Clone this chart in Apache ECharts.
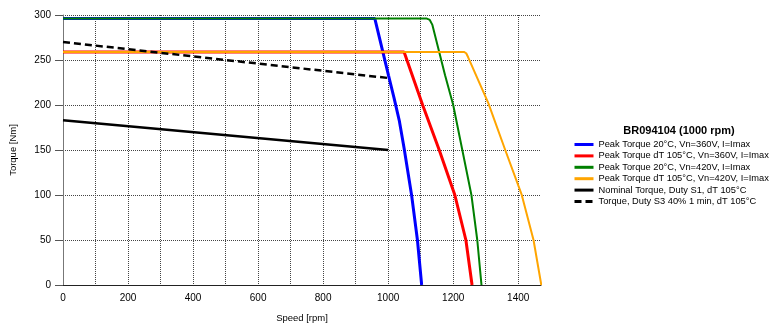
<!DOCTYPE html>
<html>
<head>
<meta charset="utf-8">
<script src="https://cdn.jsdelivr.net/npm/echarts@6/dist/echarts.min.js"></script>
<style>html,body{margin:0;padding:0;background:#fff;}#c{width:779px;height:333px;}</style>
</head>
<body>
<div id="c"></div>
<script>
// ---- data ----
const chartTitle = 'BR094104 (1000 rpm)';
const seriesNames = [
  'Peak Torque 20°C, Vn=360V, I=Imax',
  'Peak Torque dT 105°C, Vn=360V, I=Imax',
  'Peak Torque 20°C, Vn=420V, I=Imax',
  'Peak Torque dT 105°C, Vn=420V, I=Imax',
  'Nominal Torque, Duty S1, dT 105°C',
  'Torque, Duty S3 40% 1 min, dT 105°C'
];
const blueSpeed   = [0, 959, 1001, 1018, 1034, 1049, 1072, 1090, 1103];
const blueTorque  = [296, 296, 233, 208, 183, 152, 100, 50, 0];
const redSpeed    = [0, 1049, 1106, 1157, 1205, 1239, 1258];
const redTorque   = [259, 259, 200, 150, 100, 50, 0];
const greenSpeed  = [0, 1119, 1128, 1136, 1175, 1200, 1228, 1256, 1274, 1287];
const greenTorque = [296, 296, 294.5, 289, 233, 200, 150, 100, 50, 0];
const orangeSpeed = [0, 1233, 1240, 1246, 1308, 1360, 1410, 1447, 1471];
const orangeTorque= [259, 259, 257.5, 253, 202, 150, 101, 50, 0];
const s1Speed     = [0, 1000];
const s1Torque    = [183, 150];
const s3Speed     = [0, 1000];
const s3Torque    = [270, 230];
const xTickLabels = [0, 200, 400, 600, 800, 1000, 1200, 1400];
const yTickLabels = [0, 50, 100, 150, 200, 250, 300];

const pairs = (xs, ys) => xs.map((x, i) => [x, ys[i]]);
const colors = ['#0000ff', '#ff0000', '#008000', '#ffa500', '#000000', '#000000'];
const widths = [3, 3, 2, 2, 2.5, 2.5];
const dataSets = [
  pairs(blueSpeed, blueTorque),
  pairs(redSpeed, redTorque),
  pairs(greenSpeed, greenTorque),
  pairs(orangeSpeed, orangeTorque),
  pairs(s1Speed, s1Torque),
  pairs(s3Speed, s3Torque)
];

const font = 'Liberation Sans, Arial, sans-serif';
const chart = echarts.init(document.getElementById('c'), null, {renderer: 'canvas'});
chart.setOption({
  animation: false,
  backgroundColor: '#ffffff',
  title: {
    text: chartTitle,
    left: 674, top: 120, textAlign: 'center',
    textStyle: {fontFamily: font, fontSize: 11, fontWeight: 'bold', color: '#000'}
  },
  legend: {
    orient: 'vertical', left: 573, top: 140, padding: 0,
    itemWidth: 19, itemHeight: 10, itemGap: 2.4,
    data: seriesNames,
    itemStyle: {opacity: 0},
    lineStyle: {width: 3},
    textStyle: {fontFamily: font, fontSize: 9.3, color: '#000'}
  },
  grid: {left: 62, right: 238, top: 15, bottom: 48, containLabel: false},
  xAxis: [{
    type: 'value', min: 0, max: 1470, interval: 200,
    name: 'Speed [rpm]', nameLocation: 'middle', nameGap: 28,
    nameTextStyle: {fontFamily: font, fontSize: 9.5, color: '#000'},
    axisLine: {show: true, lineStyle: {color: '#222', width: 1}},
    axisTick: {show: false},
    axisLabel: {
      margin: 8, fontFamily: font, fontSize: 10, color: '#000', showMaxLabel: false,
      formatter: v => xTickLabels.indexOf(v) >= 0 ? String(v) : ''
    },
    splitLine: {show: false}
  }, {
    type: 'value', min: 0, max: 1470, interval: 100, position: 'bottom',
    axisLine: {show: false}, axisTick: {show: false}, axisLabel: {show: false},
    splitLine: {show: true, showMinLine: false, showMaxLine: false,
      lineStyle: {color: '#444', width: 1, type: [1, 1]}}
  }],
  yAxis: {
    type: 'value', min: 0, max: 300, interval: 50,
    name: 'Torque [Nm]', nameLocation: 'middle', nameGap: 45, nameRotate: 90,
    nameTextStyle: {fontFamily: font, fontSize: 9.5, color: '#000'},
    axisLine: {show: true, lineStyle: {color: '#777', width: 1}},
    axisTick: {show: true, length: 8, lineStyle: {color: '#555'}},
    axisLabel: {
      margin: 12, fontFamily: font, fontSize: 10, color: '#000',
      formatter: v => yTickLabels.indexOf(v) >= 0 ? String(v) : ''
    },
    splitLine: {show: true, showMinLine: false, showMaxLine: true,
      lineStyle: {color: '#444', width: 1, type: [1, 1]}}
  },
  series: seriesNames.map((name, i) => ({
    name: name, type: 'line', xAxisIndex: 0, yAxisIndex: 0,
    data: dataSets[i], symbol: 'none', smooth: false,
    lineStyle: {color: colors[i], width: widths[i], type: i === 5 ? [7, 4] : 'solid'},
    itemStyle: {color: colors[i]},
    z: 2 + i
  }))
});
</script>
</body>
</html>
